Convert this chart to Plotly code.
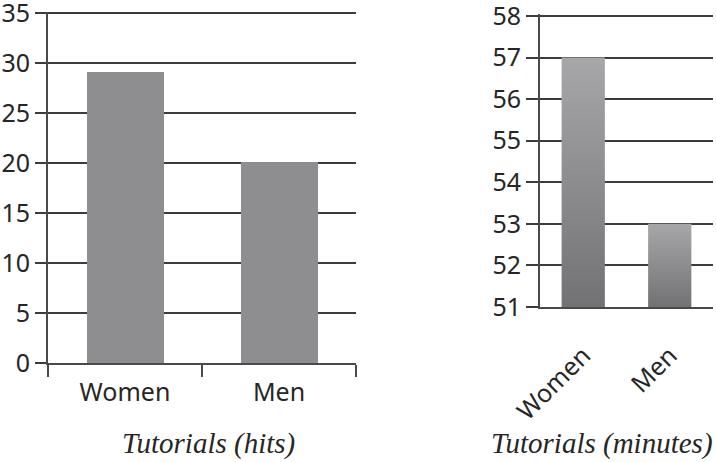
import plotly.graph_objects as go

# Data
categories = ["Women", "Men"]
hits = [29.2, 20.2]
minutes = [57, 53]
hits_ticks = [0, 5, 10, 15, 20, 25, 30, 35]
minutes_ticks = [51, 52, 53, 54, 55, 56, 57, 58]

W, H = 716, 462
TICK_FONT = dict(family="Noto Sans", size=25, color="#262626")
TITLE_FONT = dict(family="Liberation Serif", size=29, color="#262626")
GRID = "#3c3c3c"
AXIS = "#4a4a4a"
BAR_W = 0.5

fig = go.Figure()

# Left panel: plain grey bars
fig.add_trace(go.Bar(
    x=categories, y=hits, width=BAR_W,
    marker=dict(color="#8e8e90", line=dict(width=0)),
    xaxis="x", yaxis="y", showlegend=False,
))

# Right panel: bars with a vertical grey gradient, rising from the axis floor
base = minutes_ticks[0]
for i, v in enumerate(minutes):
    fig.add_trace(go.Scatter(
        x=[i - BAR_W / 2, i - BAR_W / 2, i + BAR_W / 2, i + BAR_W / 2, i - BAR_W / 2],
        y=[base, v, v, base, base],
        mode="lines", line=dict(width=0), fill="toself",
        fillgradient=dict(type="vertical",
                          colorscale=[[0, "#727275"], [1, "#a7a7a9"]]),
        xaxis="x2", yaxis="y2", showlegend=False, hoverinfo="skip",
    ))

def px_x(p):
    return p / W

def px_y(p):
    return (H - p) / H

# small headroom above the top tick so its gridline is kept
hits_top = hits_ticks[-1] + 0.15
minutes_top = minutes_ticks[-1] + 0.04

fig.update_layout(
    width=W, height=H,
    margin=dict(l=0, r=0, t=0, b=0),
    paper_bgcolor="white", plot_bgcolor="white",
    bargap=0,
    xaxis=dict(
        domain=[px_x(48), px_x(356)], anchor="y", type="category",
        categoryorder="array", categoryarray=categories,
        tickson="boundaries", ticks="outside", ticklen=12, tickwidth=2,
        tickcolor=AXIS, showline=True, linecolor=AXIS, linewidth=2,
        showgrid=False, tickfont=TICK_FONT, ticklabelstandoff=6,
        automargin=False,
    ),
    yaxis=dict(
        domain=[px_y(363), px_y(11.5)], anchor="x", range=[0, hits_top],
        tickvals=hits_ticks, ticks="outside", ticklen=11, tickwidth=2,
        tickcolor=GRID, showline=True, linecolor=AXIS, linewidth=2,
        showgrid=True, gridcolor=GRID, gridwidth=2, zeroline=False,
        tickfont=TICK_FONT, ticklabeloverflow="allow", automargin=False,
    ),
    xaxis2=dict(
        domain=[px_x(540), px_x(713)], anchor="y2", range=[-0.5, 1.5],
        tickvals=[0, 1], ticktext=categories, tickangle=-45, ticks="",
        showline=True, linecolor=AXIS, linewidth=2, showgrid=False,
        zeroline=False, tickfont=TICK_FONT, ticklabelstandoff=22,
        automargin=False,
    ),
    xaxis3=dict(
        overlaying="x2", anchor="y2", range=[-0.5, 1.5],
        tickvals=[-0.5, 0.5, 1.5], ticks="outside", ticklen=11, tickwidth=2,
        tickcolor=AXIS, showticklabels=False, showgrid=False,
        zeroline=False, automargin=False,
    ),
    yaxis2=dict(
        domain=[px_y(307), px_y(14.3)], anchor="x2", range=[51, minutes_top],
        tickvals=minutes_ticks, ticks="outside", ticklen=12, tickwidth=2,
        tickcolor=GRID, showline=True, linecolor=AXIS, linewidth=2,
        showgrid=True, gridcolor=GRID, gridwidth=2, zeroline=False,
        tickfont=TICK_FONT, ticklabeloverflow="allow", automargin=False,
    ),
    annotations=[
        dict(text="<i>Tutorials (hits)</i>", xref="paper", yref="paper",
             x=px_x(208), y=px_y(443), xanchor="center", yanchor="middle",
             showarrow=False, font=TITLE_FONT),
        dict(text="<i>Tutorials (minutes)</i>", xref="paper", yref="paper",
             x=px_x(602), y=px_y(443), xanchor="center", yanchor="middle",
             showarrow=False, font=TITLE_FONT),
    ],
)

fig.write_html("out.html")
